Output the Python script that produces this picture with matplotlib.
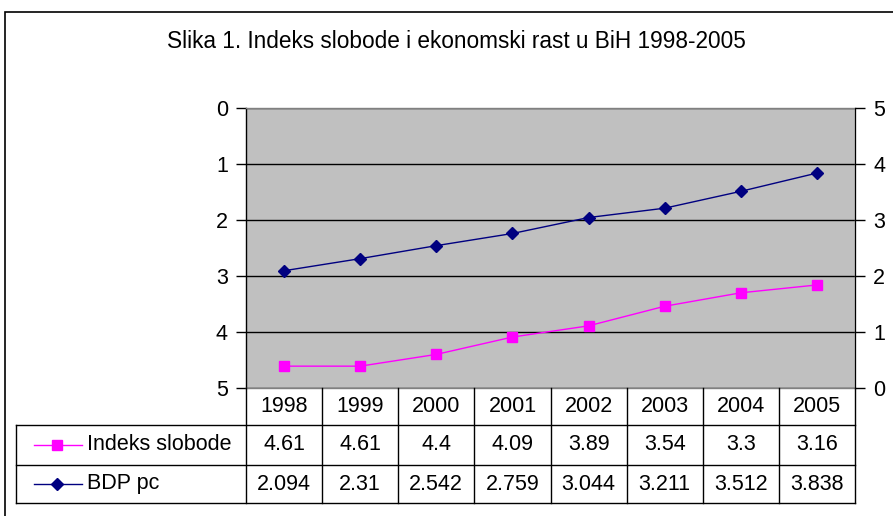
import matplotlib
matplotlib.use("Agg")
import matplotlib.pyplot as plt
from matplotlib.lines import Line2D
from matplotlib.patches import Rectangle

years = ["1998", "1999", "2000", "2001", "2002", "2003", "2004", "2005"]
indeks_slobode = [4.61, 4.61, 4.4, 4.09, 3.89, 3.54, 3.3, 3.16]
bdp_pc = [2.094, 2.31, 2.542, 2.759, 3.044, 3.211, 3.512, 3.838]
left_ticks = [0, 1, 2, 3, 4, 5]
right_ticks = [0, 1, 2, 3, 4, 5]
title = "Slika 1. Indeks slobode i ekonomski rast u BiH 1998-2005"
series_names = ["Indeks slobode", "BDP pc"]

plt.rcParams['font.family'] = ['Liberation Sans', 'DejaVu Sans']
FS = 15.5
W, H = 893, 516
fig = plt.figure(figsize=(W / 100, H / 100), dpi=100)

def fx(px):
    return px / W

def fy(py):
    return 1 - py / H

# outer frame
fig.patches.append(Rectangle((fx(5), fy(530)), fx(900), fy(12) - fy(530),
                             transform=fig.transFigure, fill=False,
                             edgecolor='black', linewidth=1.2))

x0, x1, ytop, ybot = 246, 855, 108, 388
ax = fig.add_axes([fx(x0), fy(ybot), fx(x1) - fx(x0), fy(ytop) - fy(ybot)])
ax.set_facecolor('#C0C0C0')
n = len(years)
xs = list(range(n))
ax.set_xlim(-0.5, n - 0.5)
ax.set_ylim(5, 0)
ax.set_yticks(left_ticks)
ax.set_xticks([])
ax.tick_params(axis='y', direction='out', length=7, width=1, labelsize=FS, pad=6)
for v in left_ticks:
    ax.axhline(v, color='black', linewidth=1, zorder=1)
for s in ax.spines.values():
    s.set_color('#808080')
    s.set_linewidth(1)
ax.spines['left'].set_color('black')

ax2 = ax.twinx()
ax2.set_ylim(0, 5)
ax2.set_yticks(right_ticks)
ax2.tick_params(axis='y', direction='out', length=7, width=1, labelsize=FS, pad=6)
ax2.spines['right'].set_color('black')
ax2.spines['left'].set_visible(False)
ax2.spines['top'].set_visible(False)
ax2.spines['bottom'].set_visible(False)

ax.plot(xs, indeks_slobode, color='#FF00FF', linewidth=1, marker='s',
        markersize=7, markerfacecolor='#FF00FF', markeredgecolor='#FF00FF', zorder=3)
ax2.plot(xs, bdp_pc, color='#000080', linewidth=1, marker='D',
         markersize=6, markerfacecolor='#000080', markeredgecolor='#000080', zorder=3)

fig.text(fx(456), fy(42), title, ha='center', va='center', fontsize=16.3)

# data table
rows_y = [388, 425, 465, 503]
lx = 16
lw = 1
def hline(y, xa, xb):
    fig.add_artist(Line2D([fx(xa), fx(xb)], [fy(y), fy(y)], color='black', linewidth=lw))

def vline(x, ya, yb):
    fig.add_artist(Line2D([fx(x), fx(x)], [fy(ya), fy(yb)], color='black', linewidth=lw))

hline(rows_y[1], lx, x1)
hline(rows_y[2], lx, x1)
hline(rows_y[3], lx, x1)
vline(lx, rows_y[1], rows_y[3])
colw = (x1 - x0) / n
for i in range(n + 1):
    vline(x0 + i * colw, rows_y[0], rows_y[3])

for i, yr in enumerate(years):
    cx = x0 + (i + 0.5) * colw
    fig.text(fx(cx), fy((rows_y[0] + rows_y[1]) / 2), yr, ha='center', va='center', fontsize=FS)
    fig.text(fx(cx), fy((rows_y[1] + rows_y[2]) / 2), f"{indeks_slobode[i]:g}", ha='center', va='center', fontsize=FS)
    fig.text(fx(cx), fy((rows_y[2] + rows_y[3]) / 2), f"{bdp_pc[i]:g}", ha='center', va='center', fontsize=FS)

# legend keys in table
styles = [('#FF00FF', 's', 7), ('#000080', 'D', 6)]
for k, (name, (c, m, ms)) in enumerate(zip(series_names, styles)):
    yc = fy((rows_y[k + 1] + rows_y[k + 2]) / 2)
    fig.add_artist(Line2D([fx(34), fx(82)], [yc, yc], color=c, linewidth=1))
    fig.add_artist(Line2D([fx(57)], [yc], color=c, marker=m, markersize=ms,
                          markerfacecolor=c, markeredgecolor=c, linestyle='none'))
    fig.text(fx(87), yc, name, ha='left', va='center', fontsize=FS)

fig.savefig('out.png', dpi=100)
